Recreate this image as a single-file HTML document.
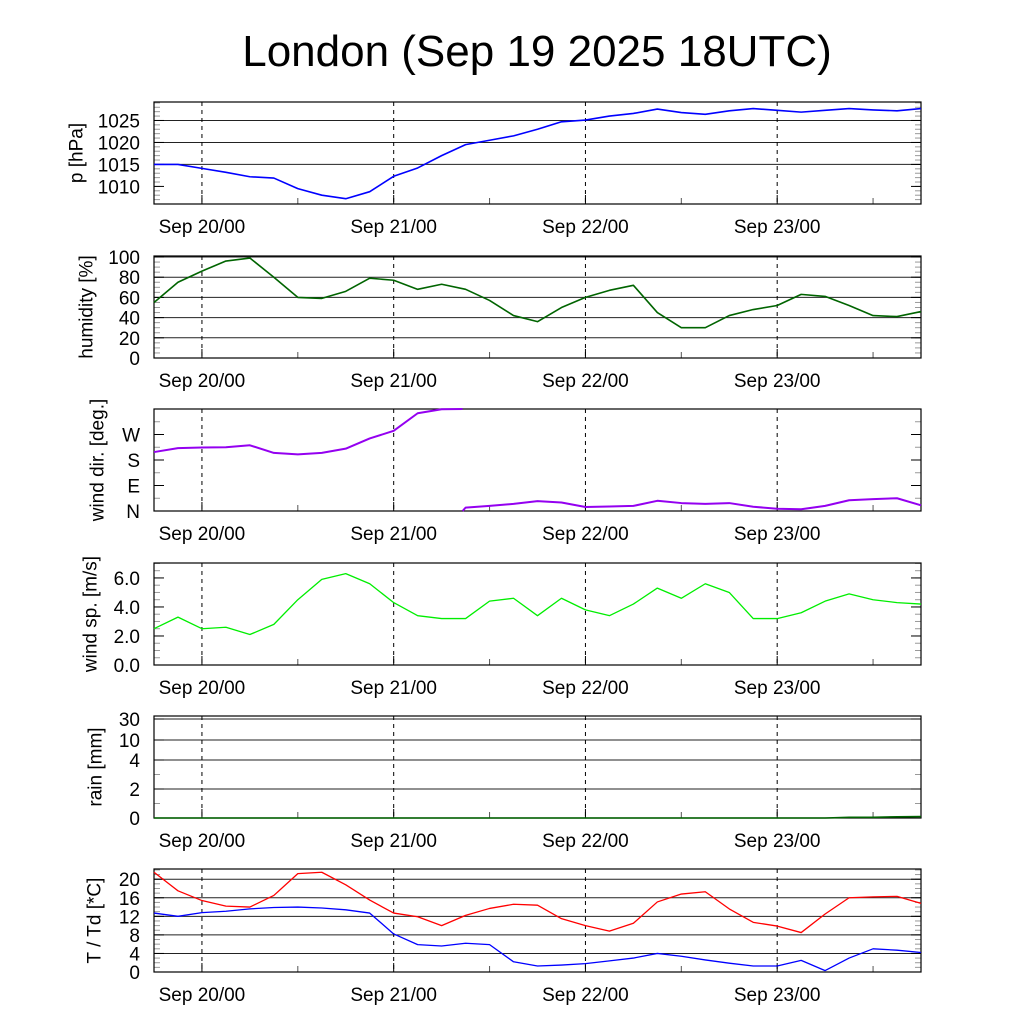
<!DOCTYPE html>
<html><head><meta charset="utf-8"><style>
html,body{margin:0;padding:0;background:#fff;}
svg{display:block;font-family:"Liberation Sans",Arial,sans-serif;}
</style></head><body>
<svg id="chart" width="1024" height="1024" viewBox="0 0 1024 1024" xmlns="http://www.w3.org/2000/svg">
<rect width="1024" height="1024" fill="#fff"/>
<text x="537" y="66" font-size="44" text-anchor="middle">London (Sep 19 2025 18UTC)</text>
</svg>
<script>
// hours since Sep 19 18UTC, step 3h
const hours = [0,3,6,9,12,15,18,21,24,27,30,33,36,39,42,45,48,51,54,57,60,63,66,69,72,75,78,81,84,87,90,93,96];
const dayTicks = [6,30,54,78];
const dayLabels = ["Sep 20/00","Sep 21/00","Sep 22/00","Sep 23/00"];
const pressure = [1015,1015,1014.1,1013.2,1012.2,1011.9,1009.5,1008,1007.2,1008.8,1012.3,1014.2,1017,1019.5,1020.5,1021.5,1023,1024.7,1025.1,1026,1026.6,1027.6,1026.8,1026.4,1027.2,1027.7,1027.3,1026.9,1027.3,1027.7,1027.4,1027.2,1027.7];
const humidity = [55,75,86,96,99,80,60,59,66,79,77,68,73,68,57,42,36,50,60,67,72,45,30,30,42,48,52,63,61,52,42,41,46];
const windDir = [208,222,224,225,232,205,200,205,220,256,283,345,359,12,18,25,35,30,14,16,18,36,28,25,28,15,8,6,18,38,42,45,20];
const windSpeed = [2.5,3.3,2.5,2.6,2.1,2.8,4.5,5.9,6.3,5.6,4.3,3.4,3.2,3.2,4.4,4.6,3.4,4.6,3.8,3.4,4.2,5.3,4.6,5.6,5.0,3.2,3.2,3.6,4.4,4.9,4.5,4.3,4.2];
const rain = [0,0,0,0,0,0,0,0,0,0,0,0,0,0,0,0,0,0,0,0,0,0,0,0,0,0,0,0,0,0.05,0.05,0.08,0.1];
const temp = [21.5,17.5,15.4,14.2,14.0,16.5,21.2,21.5,18.8,15.5,12.7,11.9,10.0,12.2,13.7,14.6,14.4,11.5,10.0,8.8,10.5,15.1,16.8,17.3,13.6,10.7,9.9,8.5,12.5,16.0,16.2,16.3,14.8];
const dew = [12.7,12.0,12.8,13.1,13.6,13.9,14.0,13.8,13.4,12.7,8.2,5.9,5.6,6.2,5.9,2.2,1.3,1.5,1.8,2.4,3.0,4.0,3.4,2.6,1.9,1.3,1.3,2.5,0.3,3.0,5.0,4.7,4.2];
const pTicks = [1010,1015,1020,1025];
const hTicks = [0,20,40,60,80,100];
const dTicks = [0,90,180,270];
const dLabels = ["N","E","S","W"];
const sTicks = [0,2,4,6];
const rTicks = [0,2,4,10,30];
const tTicks = [0,4,8,12,16,20];

const NS="http://www.w3.org/2000/svg";
const svg=document.getElementById('chart');
const X0=154,X1=921;
function xs(h){return X0+(h/96)*(X1-X0);}
function mk(tag,attrs,parent){const e=document.createElementNS(NS,tag);for(const k in attrs)e.setAttribute(k,attrs[k]);(parent||svg).appendChild(e);return e;}
function lin(d0,d1,top,bot){return v=>bot-(v-d0)/(d1-d0)*(bot-top);}
function rainScale(top,bot){const dv=[0,2,4,10,30],py=[818,789,760,740,719];return v=>{for(let i=0;i<dv.length-1;i++){if(v<=dv[i+1]){return py[i]+(v-dv[i])/(dv[i+1]-dv[i])*(py[i+1]-py[i]);}}return py[4];};}

const panels=[
 {name:'pressure',top:102,bot:204,ys:lin(1006,1029.2,102,204),ticks:pTicks,labels:pTicks.map(String),grid:true,title:'p [hPa]',tx:77,minor:1,minLo:1006,minHi:1029},
 {name:'humidity',top:256,bot:358,ys:lin(0,101,256,358),ticks:hTicks,labels:hTicks.map(String),grid:true,title:'humidity [%]',tx:87,minor:5,minLo:0,minHi:100},
 {name:'wind-direction',top:409,bot:511,ys:lin(0,360,409,511),ticks:dTicks,labels:dLabels,grid:false,title:'wind dir. [deg.]',tx:98,minor:45,minLo:0,minHi:360},
 {name:'wind-speed',top:563,bot:665,ys:lin(0,7.03,563,665),ticks:sTicks,labels:sTicks.map(v=>v.toFixed(1)),grid:false,title:'wind sp. [m/s]',tx:91,minor:0.5,minLo:0,minHi:7},
 {name:'rain',top:716,bot:818,ys:rainScale(716,818),ticks:rTicks,labels:rTicks.map(String),grid:true,title:'rain [mm]',tx:96,minor:1,minLo:0,minHi:4},
 {name:'temperature',top:869,bot:972,ys:lin(0,22.2,869,972),ticks:tTicks,labels:tTicks.map(String),grid:true,title:'T / Td [*C]',tx:95,minor:1,minLo:0,minHi:22}
];

panels.forEach(p=>{
 const g=mk('g',{});
 
 
 for(let v=p.minLo;v<=p.minHi+1e-9;v+=p.minor){const y=p.ys(v);if(y<p.top||y>p.bot)continue;
  mk('line',{x1:X0,x2:X0+6,y1:y,y2:y,stroke:'#999','stroke-width':1},g);
  mk('line',{x1:X1-6,x2:X1,y1:y,y2:y,stroke:'#999','stroke-width':1},g);}
 p.ticks.forEach((v,i)=>{const y=p.ys(v);
  if(p.grid&&v!==p.ticks[0]){const gl=mk('line',{x1:X0,x2:X1,y1:y,y2:y,stroke:'#222','stroke-width':1},g);}
  mk('line',{x1:X0,x2:X0+10,y1:y,y2:y,stroke:'#000','stroke-width':1},g);
  mk('line',{x1:X1-10,x2:X1,y1:y,y2:y,stroke:'#000','stroke-width':1},g);
  const t=mk('text',{x:140,y:y+7,'font-size':19,'text-anchor':'end'},g);t.textContent=p.labels[i];
  
  
 });
 dayTicks.forEach((h,i)=>{const x=xs(h);
  mk('line',{x1:x,x2:x,y1:p.top,y2:p.bot,stroke:'#000','stroke-width':1,'stroke-dasharray':'4,4'},g);
  mk('line',{x1:x,x2:x,y1:p.bot-9,y2:p.bot,stroke:'#000','stroke-width':1},g);
  const t=mk('text',{x:x,y:p.bot+29,'font-size':19,'text-anchor':'middle'},g);t.textContent=dayLabels[i];
  
  
 });
 [18,42,66,90].forEach(h=>{const x=xs(h);mk('line',{x1:x,x2:x,y1:p.bot-6,y2:p.bot,stroke:'#555','stroke-width':1},g);});
 const fr=mk('rect',{x:X0,y:p.top,width:X1-X0,height:p.bot-p.top,fill:'none',stroke:'#000','stroke-width':1.2},g);
 
 
 const cy=(p.top+p.bot)/2;
 const tt=mk('text',{x:p.tx,y:cy,'font-size':19,'text-anchor':'middle','dominant-baseline':'central',transform:`rotate(-90 ${p.tx} ${cy})`},g);
 tt.textContent=p.title;
 
 
 p.g=g;
});

function series(panel,vals,color,width,name,wrap){
 let d='';let prev=null;
 vals.forEach((v,i)=>{const x=xs(hours[i]);const y=panel.ys(v);
  if(prev!==null&&wrap&&Math.abs(v-prev)>180){
   const yTop=panel.ys(360),yBot=panel.ys(0);
   const xm=x-3; d+=`L${xm},${yTop} M${xm},${yBot} `;
   d+=`L${x},${y} `;
  } else d+=(prev===null?'M':'L')+x+','+y+' ';
  prev=v;});
 const path=mk('path',{d:d,fill:'none',stroke:color,'stroke-width':width,'stroke-linejoin':'round'},panel.g);
 
 
}
series(panels[0],pressure,'#0000ff',1.6,'pressure-line');
series(panels[1],humidity,'#006400',1.6,'humidity-line');
series(panels[2],windDir,'#9400f0',2,'wind-direction-line',true);
series(panels[3],windSpeed,'#00ee00',1.3,'wind-speed-line');
series(panels[4],rain,'#006400',1.6,'rain-line');
series(panels[5],temp,'#ff0000',1.3,'temperature-line');
series(panels[5],dew,'#0000ff',1.3,'dewpoint-line');
</script>
</body></html>
